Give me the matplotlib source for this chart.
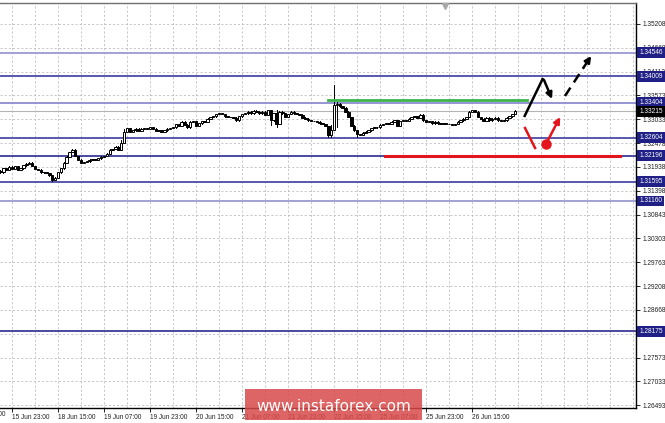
import matplotlib
matplotlib.use('Agg')
import matplotlib.pyplot as plt
import matplotlib.transforms as mtransforms
from matplotlib.patches import Rectangle
from matplotlib import font_manager

# ---------------- data ----------------
first_bar = -4  # bar index of first candle (bar 0 = 15 Jun 23:00, H1 bars)
closes = [
    1.3182, 1.3191, 1.3187, 1.3194,
    1.3189, 1.3196, 1.3187, 1.3191,
    1.3198, 1.3201, 1.3203, 1.3196,
    1.3189, 1.3187, 1.3182, 1.3182,
    1.3180, 1.3175, 1.3164, 1.3169,
    1.3182, 1.3191, 1.3203, 1.3217,
    1.3228, 1.3233, 1.3219, 1.3210,
    1.3203, 1.3205, 1.3207, 1.3210,
    1.3212, 1.3210, 1.3214, 1.3217,
    1.3219, 1.3224, 1.3233, 1.3235,
    1.3240, 1.3233, 1.3249, 1.3274,
    1.3283, 1.3274, 1.3278, 1.3281,
    1.3276, 1.3281, 1.3283, 1.3281,
    1.3285, 1.3281, 1.3276, 1.3278,
    1.3274, 1.3278, 1.3281, 1.3283,
    1.3285, 1.3292, 1.3288, 1.3297,
    1.3290, 1.3285, 1.3297, 1.3299,
    1.3288, 1.3294, 1.3299, 1.3297,
    1.3304, 1.3308, 1.3310, 1.3315,
    1.3317, 1.3315, 1.3310, 1.3308,
    1.3308, 1.3306, 1.3301, 1.3310,
    1.3315, 1.3317, 1.3320, 1.3317,
    1.3322, 1.3320, 1.3317, 1.3320,
    1.3313, 1.3324, 1.3301, 1.3317,
    1.3292, 1.3320, 1.3317, 1.3308,
    1.3315, 1.3320, 1.3317, 1.3315,
    1.3313, 1.3306, 1.3304, 1.3301,
    1.3299, 1.3299, 1.3297, 1.3294,
    1.3292, 1.3288, 1.3267, 1.3278,
    1.3336, 1.3338, 1.3333, 1.3329,
    1.3320, 1.3308, 1.3288, 1.3278,
    1.3269, 1.3267, 1.3272, 1.3274,
    1.3278, 1.3283, 1.3285, 1.3285,
    1.3290, 1.3292, 1.3294, 1.3292,
    1.3297, 1.3301, 1.3288, 1.3299,
    1.3301, 1.3299, 1.3304, 1.3308,
    1.3310, 1.3306, 1.3313, 1.3301,
    1.3297, 1.3299, 1.3294, 1.3297,
    1.3294, 1.3292, 1.3294, 1.3292,
    1.3292, 1.3290, 1.3292, 1.3297,
    1.3301, 1.3304, 1.3308, 1.3320,
    1.3324, 1.3320, 1.3308, 1.3304,
    1.3299, 1.3306, 1.3301, 1.3304,
    1.3306, 1.3301, 1.3299, 1.3301,
    1.3306, 1.3310, 1.3315, 1.3322,
]
first_open = 1.3185
# notable wicks: bar index -> (high, low)
wicks = {14: (1.3170, 1.3162), 38: (1.3256, 1.3233), 39: (1.3280, 1.3249),
         90: (1.3324, 1.3290), 92: (1.3324, 1.3285), 110: (1.3288, 1.3262),
         111: (1.3290, 1.3262), 112: (1.3381, 1.3278), 113: (1.3342, 1.3285),
         120: (1.3272, 1.3262)}

level_values = [1.34546, 1.34009, 1.33404, 1.32604, 1.32196, 1.31595, 1.31160, 1.28175]
level_colors = ['#9a9ad0', '#4a4aa8', '#8c8cd0', '#4a4aa8', '#3a3a98', '#4a4aa8', '#9a9ad0', '#3a3a98']
current_price = 1.33215

green_level = 1.3347
green_span = (110, 179)
red_level = 1.3218
red_span = (129.7, 211.5)

ytick_values = [1.35208, 1.34668, 1.34113, 1.33573, 1.33033, 1.32478, 1.31938, 1.31398,
                1.30843, 1.30303, 1.29763, 1.29208, 1.28668, 1.28128, 1.27573, 1.27033, 1.26493]
xtick_bars = [0, 16, 32, 48, 64, 80, 96, 112, 128, 144, 160]
xtick_labels = ['15 Jun 23:00', '18 Jun 15:00', '19 Jun 07:00', '19 Jun 23:00', '20 Jun 15:00',
                '21 Jun 07:00', '21 Jun 23:00', '22 Jun 15:00', '25 Jun 07:00', '25 Jun 23:00',
                '26 Jun 15:00']

# forecast sketch points (bar index, price)
black_up = [(178.1, 1.3308), (184.7, 1.33973)]
black_down = [(185.0, 1.33927), (187.8, 1.33493)]
black_dash = [(192.3, 1.33561), (201.4, 1.34476)]
red_down = [(178.4, 1.32829), (181.9, 1.32372)]
red_dot = (185.7, 1.32463)
red_up_end = (190.6, 1.33081)

# ---------------- figure ----------------
W, H = 665, 423
fig = plt.figure(figsize=(W / 100, H / 100), dpi=100)
fig.patch.set_facecolor('white')
ax = fig.add_axes([0, 15 / H, 636 / W, 405 / H])
ax.set_xlim(-4.17, 217.0)
ax.set_ylim(1.26425, 1.35688)

names = {f.name for f in font_manager.fontManager.ttflist}
if 'Liberation Sans Narrow' in names:
    FAM, FS = 'Liberation Sans Narrow', 5.6
else:
    FAM, FS = 'Liberation Sans', 4.7

# grid
grid_kw = dict(color='#bdbdbd', lw=0.6, ls=(0, (2.5, 2.5)), zorder=0)
for v in ytick_values:
    ax.axhline(v, **grid_kw)
for k in range(0, 218, 8):
    ax.axvline(k, **grid_kw)

# current price line
ax.axhline(current_price, color='#b4b4b4', lw=0.8, zorder=1)

# levels
for v, c in zip(level_values, level_colors):
    ax.axhline(v, color=c, lw=1.3, zorder=2)

# candles
prev = first_open
for n, c in enumerate(closes):
    i = first_bar + n
    o = prev
    lo, hi = min(o, c), max(o, c)
    h, l = wicks.get(i, (hi + 0.0001, lo - 0.0001))
    ax.plot([i, i], [l, h], color='black', lw=0.7, zorder=3)
    body = max(hi - lo, 0.0001)
    ax.add_patch(Rectangle((i - 0.42, lo), 0.84, body,
                           facecolor='white' if c >= o else 'black',
                           edgecolor='black', lw=0.7, zorder=4))
    prev = c

# green / red horizontal marks
ax.plot(green_span, [green_level, green_level], color='#3cb44b', lw=2.0, zorder=5)
ax.plot(red_span, [red_level, red_level], color='#e3141c', lw=2.2, zorder=5)

# forecast sketch
ax.plot(*zip(*black_up), color='black', lw=1.8, zorder=6, solid_capstyle='butt')
ax.annotate('', xy=black_down[1], xytext=black_down[0],
            arrowprops=dict(arrowstyle='-|>', color='black', lw=1.8, mutation_scale=9,
                            shrinkA=0, shrinkB=0), zorder=6)
(x0, y0), (x1, y1) = black_dash
xm, ym = x0 + (x1 - x0) * 0.72, y0 + (y1 - y0) * 0.72
ax.plot([x0, xm], [y0, ym], color='black', lw=1.8, ls=(0, (4, 2.5)), zorder=6)
ax.annotate('', xy=(x1, y1), xytext=(xm, ym),
            arrowprops=dict(arrowstyle='-|>', color='black', lw=1.8, mutation_scale=9,
                            shrinkA=0, shrinkB=0), zorder=6)
ax.plot(*zip(*red_down), color='#e3141c', lw=1.8, zorder=6)
ax.annotate('', xy=red_up_end, xytext=red_dot,
            arrowprops=dict(arrowstyle='-|>', color='#e3141c', lw=1.8, mutation_scale=9,
                            shrinkA=0, shrinkB=0), zorder=6)
ax.plot(*red_dot, marker='o', ms=6.5, color='#e3141c', zorder=7)

# shift marker
ax.plot(150.6, 0.992, marker='v', ms=4, color='#a8a8a8', transform=ax.get_xaxis_transform(),
        clip_on=False, zorder=8)

# spines
ax.spines['left'].set_visible(False)
ax.spines['top'].set_color('#707070')
ax.spines['top'].set_linewidth(1.0)
ax.spines['right'].set_color('black')
ax.spines['right'].set_linewidth(1.0)
ax.spines['bottom'].set_color('black')
ax.spines['bottom'].set_linewidth(1.0)

# y axis on the right
ax.yaxis.tick_right()
ax.set_yticks(ytick_values)
ax.set_yticklabels([f'{v:.5f}' for v in ytick_values], fontsize=FS, family=FAM, color='#202020')
ax.tick_params(axis='y', direction='out', length=3, width=0.6, pad=1.5, colors='black',
               labelcolor='#202020')

# x axis
ax.set_xticks(xtick_bars)
ax.set_xticklabels(xtick_labels, fontsize=FS, family=FAM, color='#202020', ha='left')
ax.tick_params(axis='x', direction='out', length=3, width=0.6, pad=1.5)
fig.text((-34 + 1.5) / W, (H - 414) / H, '15 Jun 07:00', fontsize=FS, family=FAM,
         color='#202020', ha='left', va='center')

# highlighted level labels
blend = mtransforms.blended_transform_factory(ax.transAxes, ax.transData)
for v in level_values:
    ax.text(1.005, v, f'{v:.5f}', transform=blend, fontsize=FS, family=FAM, color='white',
            ha='left', va='center', clip_on=False, zorder=10,
            bbox=dict(boxstyle='square,pad=0.3', fc='#1f1f86', ec='none'))
ax.text(1.005, current_price, f'{current_price:.5f}', transform=blend, fontsize=FS, family=FAM,
        color='white', ha='left', va='center', clip_on=False, zorder=10,
        bbox=dict(boxstyle='square,pad=0.3', fc='black', ec='none'))

# watermark
fig.patches.append(Rectangle((245 / W, 3 / H), 177 / W, 31 / H, transform=fig.transFigure,
                             facecolor='#d94a4a', alpha=0.85, edgecolor='none', zorder=20))
fig.text(333.5 / W, (H - 406) / H, 'www.instaforex.com', fontsize=11, family='DejaVu Sans',
         color='white', ha='center', va='center', zorder=21)

fig.savefig('out.png', dpi=100)
